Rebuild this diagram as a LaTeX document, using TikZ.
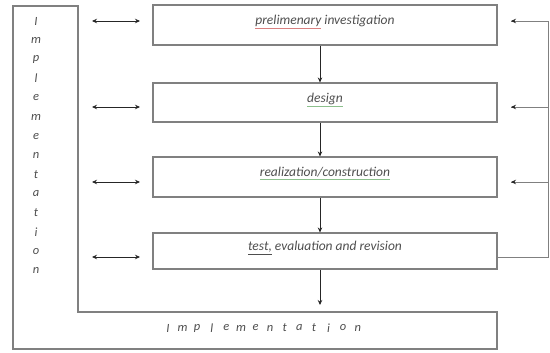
\documentclass[tikz,border=0pt]{standalone}
\usepackage{fontspec}
\setmainfont{Carlito}
\usetikzlibrary{arrows.meta,calc}
\definecolor{boxgray}{HTML}{808080}
\definecolor{txtgray}{HTML}{4E4E4E}
\definecolor{ulred}{HTML}{D98080}
\definecolor{ulgreen}{HTML}{8CC08C}
\newcommand\myul[2]{\textcolor{#1}{\underline{\textcolor{txtgray}{#2}}}}
\begin{document}
\begin{tikzpicture}[x=1pt,y=-1pt,
  stepbox/.style={draw=boxgray, line width=1.1pt, minimum width=344pt, inner sep=0pt,
    font=\itshape\fontsize{13.5}{15}\selectfont, text=txtgray, text height=8pt, text depth=8pt},
  letter/.style={font=\itshape\fontsize{12.5}{13}\selectfont, text=txtgray, inner sep=0pt},
  flow/.style={-{Stealth[length=5pt,width=4.5pt]}, line width=0.7pt, draw=black!85},
  twoway/.style={{Stealth[length=5pt,width=4.5pt]}-{Stealth[length=5pt,width=4.5pt]}, line width=0.7pt, draw=black!85},
  fb/.style={line width=0.8pt, draw=boxgray}]
\useasboundingbox (0,0) rectangle (550,353);
% outer L frame
\draw[boxgray, line width=1.1pt] (13,6) -- (78,6) -- (78,312) -- (497,312) -- (497,349) -- (13,349) -- cycle;
% boxes
\node[stepbox, minimum height=40pt] (b1) at (325,25) {\myul{ulred}{prelimenary} investigation};
\node[stepbox, minimum height=39pt] (b2) at (325,102.5) {\myul{ulgreen}{design}};
\node[stepbox, minimum height=40pt] (b3) at (325,177) {\myul{ulgreen}{realization/construction}};
\node[stepbox, minimum height=36pt] (b4) at (325,251) {\myul{txtgray}{test,} evaluation and revision};
% vertical letters
\foreach \c [count=\i from 0] in {I,m,p,l,e,m,e,n,t,a,t,i,o,n}
  \node[letter] (v\i) at (36,{21+19.2*\i}) {\c};
% horizontal letters
\foreach \c [count=\i from 0] in {I,m,p,l,e,m,e,n,t,a,t,i,o,n}
  \node[letter] (h\i) at ({168+14.6*\i},328) {\c};
% down arrows
\draw[flow] ([xshift=-5pt]b1.south) -- ([xshift=-5pt]b2.north);
\draw[flow] ([xshift=-5pt]b2.south) -- ([xshift=-5pt]b3.north);
\draw[flow] ([xshift=-5pt]b3.south) -- ([xshift=-5pt]b4.north);
\coordinate (tip) at (320,305);
\draw[flow] ([xshift=-5pt]b4.south) -- (tip);
% left two-way arrows
\foreach \y [count=\i] in {21,107,182,257} {
  \coordinate (la\i) at (92,\y);
  \coordinate (lb\i) at (140,\y);
  \draw[twoway] (la\i) -- (lb\i);
}
% right feedback
\coordinate (rb) at (548,257);
\coordinate (rt) at (548,21);
\draw[fb] ($(b4.east)+(0,6)$) -- (rb) -- (rt);
\foreach \y [count=\i] in {21,107,182} {
  \coordinate (rs\i) at (548,\y);
  \coordinate (re\i) at (511,\y);
  \draw[fb] (rs\i) -- (re\i);
  \draw[flow] ($(re\i)+(4,0)$) -- (re\i);
}
\end{tikzpicture}
\end{document}
